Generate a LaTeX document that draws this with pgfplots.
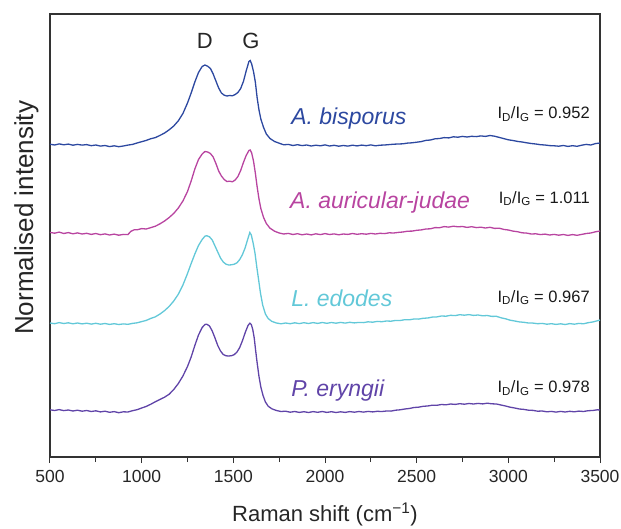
\documentclass[border=0pt]{standalone}
\usepackage{fontspec}
\setmainfont{Liberation Sans}
\usepackage{pgfplots}
\pgfplotsset{compat=1.18}
\definecolor{cblue}{RGB}{44,72,160}
\definecolor{cmag}{RGB}{184,68,160}
\definecolor{ccyan}{RGB}{98,200,216}
\definecolor{cpurp}{RGB}{96,68,168}
\begin{document}
\begin{tikzpicture}
\useasboundingbox (-50pt,-71pt) rectangle (571pt,457pt);
\begin{axis}[
  scale only axis, width=550pt, height=443pt,
  xmin=500, xmax=3500, ymin=0, ymax=443,
  xtick={500,1000,...,3500}, minor xtick={750,1250,...,3250},
  ytick=\empty, xtick pos=bottom,
  tick align=outside,
  major tick length=6pt, minor tick length=5pt,
  axis line style={line width=1.1pt, black!80},
  every tick/.style={line width=1pt, black!80},
  /pgf/number format/assume math mode=true,
  /pgf/number format/1000 sep={},
  xticklabel style={font=\fontsize{17.5}{20}\selectfont, text=black!85, yshift=-4pt},
  xlabel={Raman shift (cm\textsuperscript{−1})},
  xlabel style={font=\fontsize{22}{26}\selectfont, at={(axis description cs:0.5,-0.1445)}, anchor=base, text=black!85},
  ylabel={Normalised intensity},
  ylabel style={font=\fontsize{26}{30}\selectfont, at={(axis description cs:-0.043,0.54)}, anchor=center, text=black!85},
  every axis plot/.append style={line width=1.3pt},
]
% A. bisporus
\addplot[cblue] coordinates {
(500,312.8)(525,312.0)(550,313.1)(575,312.2)(600,312.9)(625,311.8)(650,312.6)(675,311.9)(700,312.4)(725,311.3)
(750,312.0)(775,310.9)(800,311.5)(825,310.4)(850,311.2)(875,310.3)(900,311.0)(925,311.9)(950,312.6)(975,314.0)
(1000,315.3)(1025,316.6)(1050,318.3)(1075,319.4)(1100,321.6)(1125,324.0)(1150,327.2)(1175,331.0)(1200,336.2)(1225,343.5)
(1250,354.0)(1270,364.0)(1290,375.0)(1310,384.5)(1330,390.5)(1345,392.0)(1360,390.8)(1375,388.5)(1390,383.0)(1405,376.0)
(1420,369.0)(1435,364.0)(1450,361.8)(1465,361.0)(1480,361.5)(1495,361.2)(1510,362.5)(1525,364.5)(1540,368.5)(1555,375.5)
(1570,386.0)(1585,395.5)(1592,396.5)(1600,393.0)(1610,385.5)(1620,375.0)(1630,359.0)(1640,347.0)(1650,338.0)(1665,329.5)
(1680,323.0)(1700,318.5)(1725,315.5)(1750,313.8)(1775,312.2)(1800,312.6)(1825,311.5)(1850,312.3)(1875,311.4)(1900,312.0)
(1925,311.0)(1950,311.8)(1975,311.2)(2000,312.1)(2025,311.0)(2050,311.7)(2075,310.8)(2100,311.5)(2125,310.9)(2150,311.8)
(2175,311.1)(2200,311.9)(2225,311.3)(2250,312.1)(2275,311.2)(2300,311.8)(2325,312.0)(2350,312.4)(2375,312.8)(2400,313.0)
(2425,313.2)(2450,313.9)(2475,314.2)(2500,314.8)(2525,315.4)(2550,316.6)(2575,317.0)(2600,318.2)(2625,318.5)(2650,319.4)
(2675,319.1)(2700,320.2)(2725,319.8)(2750,320.6)(2775,320.0)(2800,320.7)(2825,320.4)(2850,321.1)(2875,320.6)(2900,321.5)
(2925,320.8)(2950,319.6)(2975,318.4)(3000,317.2)(3025,316.5)(3050,315.6)(3075,315.0)(3100,314.2)(3125,313.5)(3150,313.0)
(3175,312.3)(3200,312.0)(3225,311.4)(3250,311.2)(3275,310.8)(3300,311.5)(3325,310.6)(3350,311.3)(3375,310.7)(3400,311.8)
(3425,312.6)(3450,312.0)(3475,313.4)(3500,314.0)
};
% A. auricular-judae
\addplot[cmag] coordinates {
(500,224.6)(525,223.8)(550,224.9)(575,223.5)(600,224.4)(625,223.2)(650,224.1)(675,223.0)(700,223.7)(725,222.6)
(750,223.5)(775,222.3)(800,223.1)(825,222.0)(850,222.9)(875,221.8)(900,222.6)(925,222.4)(940,225.5)(960,227.3)
(975,227.2)(1000,228.4)(1025,228.0)(1050,229.4)(1075,230.8)(1100,233.2)(1125,236.0)(1150,239.5)(1175,243.6)(1200,249.0)
(1225,256.0)(1250,265.5)(1270,276.0)(1290,288.0)(1310,297.5)(1330,303.0)(1345,305.5)(1360,305.0)(1375,303.5)(1390,300.0)
(1405,293.5)(1420,286.0)(1435,281.0)(1450,277.5)(1465,275.5)(1480,275.8)(1495,275.2)(1510,277.0)(1525,280.5)(1540,286.5)
(1555,294.5)(1570,301.5)(1585,306.5)(1592,307.0)(1600,304.0)(1610,296.0)(1620,284.0)(1630,270.0)(1640,258.0)(1650,248.5)
(1665,239.5)(1680,233.5)(1700,228.8)(1725,225.8)(1750,224.0)(1775,223.0)(1800,223.6)(1825,222.5)(1850,223.3)(1875,222.2)
(1900,223.0)(1925,222.1)(1950,223.2)(1975,222.4)(2000,223.4)(2025,222.5)(2050,223.1)(2075,222.2)(2100,223.0)(2125,222.6)
(2150,223.5)(2175,222.7)(2200,223.3)(2225,222.8)(2250,223.6)(2275,223.0)(2300,223.7)(2325,223.4)(2350,224.2)(2375,224.0)
(2400,224.6)(2425,225.0)(2450,225.8)(2475,225.9)(2500,226.7)(2525,227.1)(2550,228.0)(2575,228.2)(2600,229.4)(2625,229.3)
(2650,230.4)(2675,229.9)(2700,230.8)(2725,230.2)(2750,230.5)(2775,229.6)(2800,230.3)(2825,229.4)(2850,229.8)(2875,229.0)
(2900,229.7)(2925,228.6)(2950,228.8)(2975,227.6)(3000,227.0)(3025,225.9)(3050,225.3)(3075,224.2)(3100,223.9)(3125,223.0)
(3150,223.2)(3175,222.4)(3200,222.9)(3225,222.0)(3250,222.6)(3275,221.8)(3300,222.5)(3325,221.6)(3350,222.4)(3375,221.7)
(3400,222.6)(3425,223.5)(3450,224.0)(3475,225.2)(3500,226.0)
};
% L. edodes
\addplot[ccyan] coordinates {
(500,134.0)(525,133.3)(550,134.4)(575,133.5)(600,134.2)(625,133.2)(650,134.0)(675,133.1)(700,133.8)(725,132.9)
(750,133.7)(775,132.8)(800,133.5)(825,132.6)(850,133.3)(875,132.5)(900,133.1)(925,132.7)(950,133.6)(975,134.2)
(1000,135.4)(1025,136.6)(1050,138.6)(1075,140.2)(1100,143.0)(1125,146.4)(1150,150.6)(1175,156.0)(1200,162.8)(1225,172.0)
(1250,183.5)(1270,193.5)(1290,203.0)(1310,211.5)(1330,217.5)(1345,220.8)(1355,221.3)(1370,220.2)(1385,217.0)(1400,211.0)
(1415,205.0)(1430,199.0)(1445,195.0)(1460,192.8)(1475,192.0)(1490,192.2)(1505,192.8)(1520,194.2)(1535,197.5)(1550,202.5)
(1565,209.5)(1578,217.5)(1590,224.5)(1598,222.0)(1608,214.0)(1618,204.0)(1628,190.0)(1638,177.0)(1648,164.0)(1660,152.0)
(1675,143.0)(1690,138.5)(1710,135.6)(1735,134.0)(1760,133.2)(1785,134.0)(1810,133.3)(1835,134.2)(1860,133.4)(1885,134.3)
(1910,133.5)(1935,134.4)(1960,133.6)(1985,134.5)(2010,133.7)(2035,134.5)(2060,133.8)(2085,134.6)(2110,133.9)(2135,134.7)
(2160,134.1)(2185,134.6)(2210,134.4)(2235,135.2)(2260,134.8)(2285,135.6)(2310,135.3)(2335,136.0)(2360,135.8)(2385,136.6)
(2410,136.5)(2435,137.3)(2460,137.2)(2485,138.0)(2510,137.9)(2535,138.7)(2560,139.0)(2585,139.9)(2610,140.1)(2635,141.0)
(2660,140.8)(2685,141.7)(2710,141.4)(2735,142.3)(2760,141.8)(2785,142.4)(2810,141.6)(2835,142.0)(2860,141.2)(2885,141.5)
(2910,140.6)(2935,140.7)(2960,139.2)(2985,138.2)(3010,136.8)(3035,136.0)(3060,135.1)(3085,134.7)(3110,134.0)(3135,133.9)
(3160,133.3)(3185,133.6)(3210,132.8)(3235,133.3)(3260,132.6)(3285,133.2)(3310,132.5)(3335,133.4)(3360,132.8)(3385,133.6)
(3410,133.2)(3435,134.3)(3460,135.0)(3485,136.2)(3500,137.0)
};
% P. eryngii
\addplot[cpurp] coordinates {
(500,47.2)(525,46.5)(550,47.4)(575,46.4)(600,47.0)(625,46.0)(650,46.8)(675,45.8)(700,46.5)(725,45.5)
(750,46.2)(775,45.1)(800,45.8)(825,44.7)(850,45.4)(875,44.3)(900,45.2)(925,45.0)(950,46.3)(975,47.3)
(1000,49.0)(1025,50.6)(1050,52.8)(1075,55.3)(1100,57.6)(1125,59.8)(1150,62.8)(1175,67.5)(1200,73.5)(1225,81.0)
(1250,90.5)(1270,100.0)(1290,111.5)(1310,122.0)(1330,129.5)(1345,132.5)(1355,132.8)(1370,131.0)(1385,126.0)(1400,119.0)
(1415,111.5)(1430,106.0)(1445,102.5)(1460,101.2)(1475,101.0)(1490,101.3)(1505,102.4)(1520,105.0)(1535,109.5)(1550,116.5)
(1565,124.5)(1580,131.5)(1590,133.8)(1598,132.5)(1606,127.5)(1614,119.0)(1622,106.0)(1630,94.0)(1640,80.5)(1650,70.0)
(1662,61.5)(1675,55.0)(1690,50.8)(1710,48.2)(1735,46.5)(1760,45.5)(1785,45.8)(1810,44.8)(1835,45.5)(1860,44.6)
(1885,45.3)(1910,44.5)(1935,45.4)(1960,44.7)(1985,45.5)(2010,44.6)(2035,45.3)(2060,44.5)(2085,45.2)(2110,44.6)
(2135,45.4)(2160,44.8)(2185,45.5)(2210,44.9)(2235,45.6)(2260,45.1)(2285,45.7)(2310,45.5)(2335,46.0)(2360,45.9)
(2385,46.8)(2410,47.2)(2435,48.0)(2460,48.5)(2485,49.5)(2510,49.8)(2535,50.7)(2560,51.0)(2585,51.8)(2610,51.7)
(2635,52.5)(2660,52.2)(2685,53.0)(2710,52.6)(2735,53.3)(2760,52.8)(2785,53.5)(2810,53.0)(2835,53.6)(2860,53.1)
(2885,53.8)(2910,53.2)(2935,53.0)(2960,52.0)(2985,51.0)(3010,49.8)(3035,49.0)(3060,48.0)(3085,47.6)(3110,46.8)
(3135,46.6)(3160,45.8)(3185,46.0)(3210,45.2)(3235,45.6)(3260,44.9)(3285,45.6)(3310,45.0)(3335,45.7)(3360,45.2)
(3385,45.9)(3410,45.5)(3435,46.3)(3460,46.5)(3485,47.2)(3500,47.0)
};
\node[anchor=base, font=\fontsize{22}{26}\selectfont, text=black!85] at (axis cs:1345,408.7) {D};
\node[anchor=base, font=\fontsize{22}{26}\selectfont, text=black!85] at (axis cs:1596,408.7) {G};
\node[anchor=base west, text=cblue, font=\fontsize{23}{26}\selectfont\itshape, inner sep=0pt] at (axis cs:1815,332) {A. bisporus};
\node[anchor=base west, text=cmag, font=\fontsize{23}{26}\selectfont\itshape, inner sep=0pt] at (axis cs:1809,248.7) {A. auricular-judae};
\node[anchor=base west, text=ccyan, font=\fontsize{23}{26}\selectfont\itshape, inner sep=0pt] at (axis cs:1815,150.3) {L. edodes};
\node[anchor=base west, text=cpurp, font=\fontsize{23}{26}\selectfont\itshape, inner sep=0pt] at (axis cs:1815,60.3) {P. eryngii};
\node[anchor=base east, font=\fontsize{16.5}{19}\selectfont, inner sep=0pt, text=black!90] at (axis cs:3445,338) {I\textsubscript{D}/I\textsubscript{G} = 0.952};
\node[anchor=base east, font=\fontsize{16.5}{19}\selectfont, inner sep=0pt, text=black!90] at (axis cs:3445,253.7) {I\textsubscript{D}/I\textsubscript{G} = 1.011};
\node[anchor=base east, font=\fontsize{16.5}{19}\selectfont, inner sep=0pt, text=black!90] at (axis cs:3445,154.7) {I\textsubscript{D}/I\textsubscript{G} = 0.967};
\node[anchor=base east, font=\fontsize{16.5}{19}\selectfont, inner sep=0pt, text=black!90] at (axis cs:3445,64.3) {I\textsubscript{D}/I\textsubscript{G} = 0.978};
\end{axis}
\end{tikzpicture}
\end{document}
